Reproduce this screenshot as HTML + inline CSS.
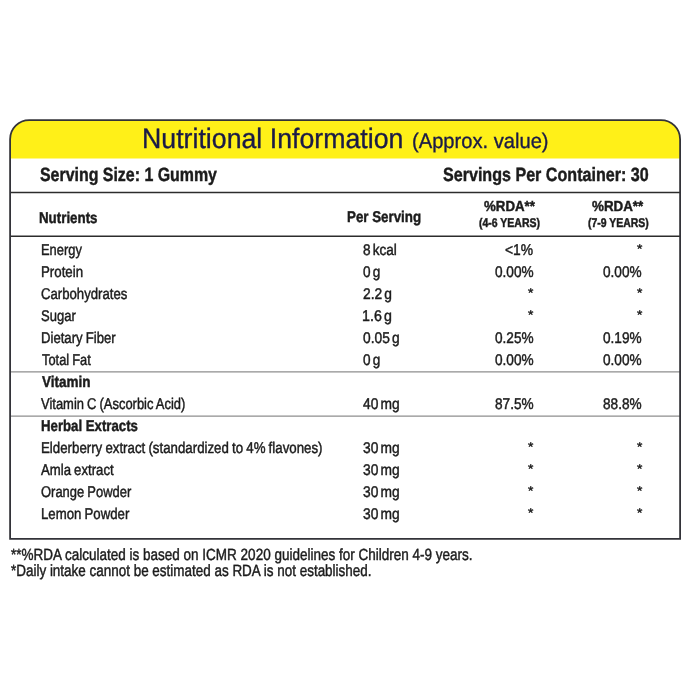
<!DOCTYPE html>
<html lang="en">
<head>
<meta charset="utf-8">
<title>Nutritional Information</title>
<style>
html,body{margin:0;padding:0;background:#fff;}
body{width:690px;height:700px;position:relative;overflow:hidden;font-family:"Liberation Sans", sans-serif;color:#1c1c1c;}
.frame{position:absolute;left:0;top:0;display:block;}
.txt{position:absolute;left:0;top:0;width:690px;height:700px;will-change:transform;}
.t{position:absolute;white-space:pre;line-height:1;text-rendering:geometricPrecision;transform-origin:0 0;-webkit-text-stroke:0.45px #1c1c1c;}
.r{word-spacing:-0.04em;}
.v{word-spacing:-0.12em;}
</style>
</head>
<body>
<svg class="frame" width="690" height="700" viewBox="0 0 690 700">
<path d="M10.10 158.6V139.20A19.10 19.10 0 0 1 29.20 120.10H661.00A19.10 19.10 0 0 1 680.10 139.20V158.6Z" fill="#fff018"/>
<path d="M10.1 192.5H680.1M10.1 236.3H680.1" stroke="#2c2c2c" stroke-width="1.6" fill="none"/>
<path d="M10.1 371.8H680.1M10.1 416.1H680.1" stroke="#8e8e8e" stroke-width="1.3" fill="none"/>
<path d="M10.10 538.80V139.20A19.10 19.10 0 0 1 29.20 120.10H661.00A19.10 19.10 0 0 1 680.10 139.20V538.80Z" fill="none" stroke="#333339" stroke-width="1.8" stroke-linejoin="miter"/>
</svg>
<div class="txt">
<span class="t" style="left:141.66px;top:125px;font-size:28.0px;color:#1a1a48;-webkit-text-stroke:0.35px #1a1a48;transform:scaleX(0.9543)">Nutritional Information</span>
<span class="t" style="left:411.61px;top:131px;font-size:21.0px;color:#1a1a48;-webkit-text-stroke:0.35px #1a1a48;transform:scaleX(0.9591)">(Approx. value)</span>
<span class="t" style="left:40.09px;top:166px;font-size:19.2px;font-weight:700;transform:scaleX(0.8297)">Serving Size: 1 Gummy</span>
<span class="t" style="left:443.39px;top:166px;font-size:19.2px;font-weight:700;transform:scaleX(0.8386)">Servings Per Container: 30</span>
<span class="t" style="left:39.34px;top:211px;font-size:15.6px;font-weight:700;transform:scaleX(0.8546)">Nutrients</span>
<span class="t" style="left:347.44px;top:210px;font-size:15.6px;font-weight:700;transform:scaleX(0.8552)">Per Serving</span>
<span class="t" style="left:483.51px;top:200px;font-size:14.5px;font-weight:700;transform:scaleX(0.9149)">%RDA**</span>
<span class="t" style="left:478.89px;top:217px;font-size:12.6px;font-weight:700;transform:scaleX(0.8327)">(4-6 YEARS)</span>
<span class="t" style="left:592.31px;top:200px;font-size:14.5px;font-weight:700;transform:scaleX(0.9220)">%RDA**</span>
<span class="t" style="left:587.69px;top:217px;font-size:12.6px;font-weight:700;transform:scaleX(0.8300)">(7-9 YEARS)</span>
<span class="t" style="left:40.96px;top:243px;font-size:15.5px;transform:scaleX(0.8318)">Energy</span>
<span class="t v" style="left:362.70px;top:243px;font-size:15.5px;transform:scaleX(0.8774)">8 kcal</span>
<span class="t" style="left:505.00px;top:243px;font-size:15.5px;transform:scaleX(0.8935)">&lt;1%</span>
<span class="t" style="left:636.85px;top:243px;font-size:12.5px;transform:scaleX(1.1009)">*</span>
<span class="t" style="left:40.94px;top:265px;font-size:15.5px;transform:scaleX(0.8573)">Protein</span>
<span class="t v" style="left:362.70px;top:265px;font-size:15.5px;transform:scaleX(0.8762)">0 g</span>
<span class="t" style="left:494.50px;top:265px;font-size:15.5px;transform:scaleX(0.8786)">0.00%</span>
<span class="t" style="left:603.30px;top:265px;font-size:15.5px;transform:scaleX(0.8786)">0.00%</span>
<span class="t" style="left:41.29px;top:287px;font-size:15.5px;transform:scaleX(0.8489)">Carbohydrates</span>
<span class="t v" style="left:362.70px;top:287px;font-size:15.5px;transform:scaleX(0.8908)">2.2 g</span>
<span class="t" style="left:528.05px;top:287px;font-size:12.5px;transform:scaleX(1.1009)">*</span>
<span class="t" style="left:636.85px;top:287px;font-size:12.5px;transform:scaleX(1.1009)">*</span>
<span class="t" style="left:41.29px;top:309px;font-size:15.5px;transform:scaleX(0.8403)">Sugar</span>
<span class="t v" style="left:361.79px;top:309px;font-size:15.5px;transform:scaleX(0.9191)">1.6 g</span>
<span class="t" style="left:528.05px;top:309px;font-size:12.5px;transform:scaleX(1.1009)">*</span>
<span class="t" style="left:636.85px;top:309px;font-size:12.5px;transform:scaleX(1.1009)">*</span>
<span class="t r" style="left:40.94px;top:331px;font-size:15.5px;transform:scaleX(0.8480)">Dietary Fiber</span>
<span class="t v" style="left:362.70px;top:331px;font-size:15.5px;transform:scaleX(0.8889)">0.05 g</span>
<span class="t" style="left:494.50px;top:331px;font-size:15.5px;transform:scaleX(0.8786)">0.25%</span>
<span class="t" style="left:603.30px;top:331px;font-size:15.5px;transform:scaleX(0.8786)">0.19%</span>
<span class="t r" style="left:42.09px;top:353px;font-size:15.5px;transform:scaleX(0.8288)">Total Fat</span>
<span class="t v" style="left:362.70px;top:353px;font-size:15.5px;transform:scaleX(0.8762)">0 g</span>
<span class="t" style="left:494.50px;top:353px;font-size:15.5px;transform:scaleX(0.8786)">0.00%</span>
<span class="t" style="left:603.30px;top:353px;font-size:15.5px;transform:scaleX(0.8786)">0.00%</span>
<span class="t r" style="left:41.39px;top:397px;font-size:15.5px;transform:scaleX(0.8358)">Vitamin C (Ascorbic Acid)</span>
<span class="t v" style="left:362.70px;top:397px;font-size:15.5px;transform:scaleX(0.8892)">40 mg</span>
<span class="t" style="left:494.50px;top:397px;font-size:15.5px;transform:scaleX(0.8786)">87.5%</span>
<span class="t" style="left:603.30px;top:397px;font-size:15.5px;transform:scaleX(0.8786)">88.8%</span>
<span class="t r" style="left:40.94px;top:441px;font-size:15.5px;transform:scaleX(0.8567)">Elderberry extract (standardized to 4% flavones)</span>
<span class="t v" style="left:362.70px;top:441px;font-size:15.5px;transform:scaleX(0.8892)">30 mg</span>
<span class="t" style="left:528.05px;top:441px;font-size:12.5px;transform:scaleX(1.1009)">*</span>
<span class="t" style="left:636.85px;top:441px;font-size:12.5px;transform:scaleX(1.1009)">*</span>
<span class="t r" style="left:41.39px;top:463px;font-size:15.5px;transform:scaleX(0.8493)">Amla extract</span>
<span class="t v" style="left:362.70px;top:463px;font-size:15.5px;transform:scaleX(0.8892)">30 mg</span>
<span class="t" style="left:528.05px;top:463px;font-size:12.5px;transform:scaleX(1.1009)">*</span>
<span class="t" style="left:636.85px;top:463px;font-size:12.5px;transform:scaleX(1.1009)">*</span>
<span class="t r" style="left:41.29px;top:485px;font-size:15.5px;transform:scaleX(0.8362)">Orange Powder</span>
<span class="t v" style="left:362.70px;top:485px;font-size:15.5px;transform:scaleX(0.8892)">30 mg</span>
<span class="t" style="left:528.05px;top:485px;font-size:12.5px;transform:scaleX(1.1009)">*</span>
<span class="t" style="left:636.85px;top:485px;font-size:12.5px;transform:scaleX(1.1009)">*</span>
<span class="t r" style="left:40.94px;top:507px;font-size:15.5px;transform:scaleX(0.8521)">Lemon Powder</span>
<span class="t v" style="left:362.70px;top:507px;font-size:15.5px;transform:scaleX(0.8892)">30 mg</span>
<span class="t" style="left:528.05px;top:507px;font-size:12.5px;transform:scaleX(1.1009)">*</span>
<span class="t" style="left:636.85px;top:507px;font-size:12.5px;transform:scaleX(1.1009)">*</span>
<span class="t" style="left:41.69px;top:375px;font-size:15.6px;font-weight:700;transform:scaleX(0.8666)">Vitamin</span>
<span class="t" style="left:40.84px;top:419px;font-size:15.6px;font-weight:700;transform:scaleX(0.8469)">Herbal Extracts</span>
<span class="t" style="left:10.69px;top:547px;font-size:16.2px;transform:scaleX(0.8340)">**%RDA calculated is based on ICMR 2020 guidelines for Children 4-9 years.</span>
<span class="t" style="left:10.69px;top:563px;font-size:16.2px;transform:scaleX(0.8312)">*Daily intake cannot be estimated as RDA is not established.</span>
</div>
</body>
</html>
